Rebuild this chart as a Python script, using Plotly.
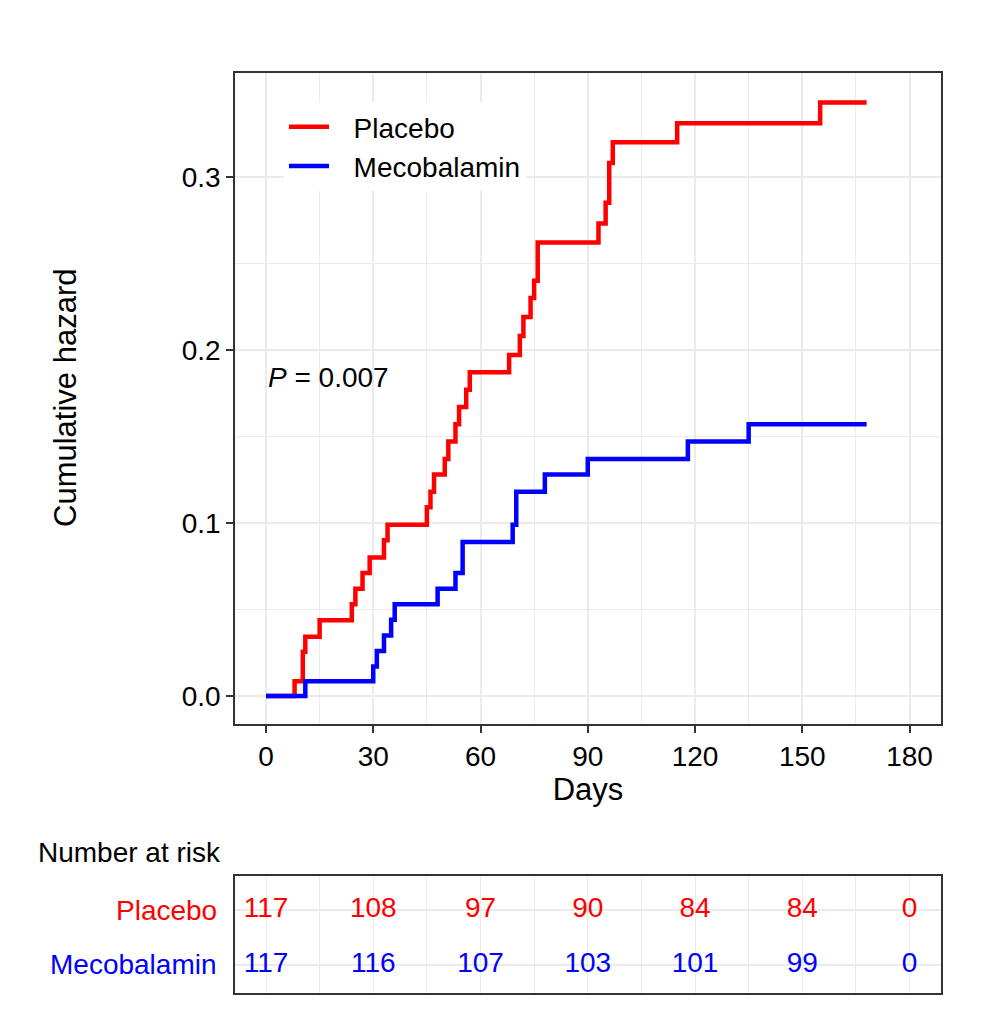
import plotly.graph_objects as go

# ---- data ----
placebo_days = [0, 8, 10.3, 11, 15, 24, 25, 27, 29, 33, 34, 45, 46, 47, 50, 51, 53, 54, 56, 57,
                68, 71, 72, 74, 75, 76, 93, 95, 96, 97, 115, 155, 168]
placebo_haz = [0, 0.0085, 0.0256, 0.0342, 0.0437, 0.053, 0.062, 0.071, 0.080, 0.090, 0.099,
               0.109, 0.118, 0.128, 0.137, 0.147, 0.157, 0.167, 0.177, 0.187,
               0.197, 0.208, 0.219, 0.230, 0.240, 0.262, 0.273, 0.285, 0.308, 0.320, 0.331, 0.343, 0.343]
meco_days = [0, 11, 30, 31, 33, 35, 36, 48, 53, 55, 69, 70, 78, 90, 118, 135, 168]
meco_haz = [0, 0.0085, 0.017, 0.026, 0.035, 0.044, 0.053, 0.062, 0.071, 0.089, 0.099, 0.118,
            0.128, 0.137, 0.147, 0.157, 0.157]

risk_times = [0, 30, 60, 90, 120, 150, 180]
risk_placebo = [117, 108, 97, 90, 84, 84, 0]
risk_meco = [117, 116, 107, 103, 101, 99, 0]

x_ticks = [0, 30, 60, 90, 120, 150, 180]
y_ticks = [0.0, 0.1, 0.2, 0.3]
y_ticklabels = ["0.0", "0.1", "0.2", "0.3"]

RED = "#FF0000"
BLUE = "#0000FF"
FONT = "Liberation Sans, Arial, sans-serif"
GRID = "#EBEBEB"
W, H = 1000, 1023
FS = 28

fig = go.Figure()
fig.add_trace(go.Scatter(x=placebo_days, y=placebo_haz, mode="lines", line_shape="hv",
                         line=dict(color=RED, width=4.5), name="\u2002\u2009Placebo"))
fig.add_trace(go.Scatter(x=meco_days, y=meco_haz, mode="lines", line_shape="hv",
                         line=dict(color=BLUE, width=4.5), name="\u2002\u2009Mecobalamin"))

# risk table
fig.add_trace(go.Scatter(x=risk_times, y=[2] * len(risk_times), mode="text",
                         text=[str(v) for v in risk_placebo], textfont=dict(color=RED, size=FS, family=FONT),
                         xaxis="x2", yaxis="y2", showlegend=False, hoverinfo="skip"))
fig.add_trace(go.Scatter(x=risk_times, y=[1] * len(risk_times), mode="text",
                         text=[str(v) for v in risk_meco], textfont=dict(color=BLUE, size=FS, family=FONT),
                         xaxis="x2", yaxis="y2", showlegend=False, hoverinfo="skip"))

xrange = [-8.67, 188.8]
px0, px1 = 235 / W, 941 / W
minor_x = [15, 45, 75, 105, 135, 165]

fig.update_layout(
    width=W, height=H,
    margin=dict(l=0, r=0, t=0, b=0),
    paper_bgcolor="white", plot_bgcolor="white",
    font=dict(family=FONT, size=FS, color="black"),
    xaxis=dict(domain=[px0, px1], range=xrange, tickvals=x_ticks,
               ticks="outside", ticklen=7, tickwidth=2, tickcolor="#333333",
               tickfont=dict(size=FS, color="black"),
               title=dict(text="Days", font=dict(size=31), standoff=6),
               minor=dict(showgrid=True, gridcolor=GRID, gridwidth=1, tickvals=minor_x),
               showline=True, mirror=True, linecolor="#333333", linewidth=1.5,
               gridcolor=GRID, gridwidth=2, zeroline=False, anchor="y"),
    yaxis=dict(domain=[1 - 724 / H, 1 - 73 / H], range=[-0.0162, 0.360],
               tickvals=y_ticks, ticktext=y_ticklabels,
               ticks="outside", ticklen=7, tickwidth=2, tickcolor="#333333",
               tickfont=dict(size=FS, color="black"),
               minor=dict(showgrid=True, gridcolor=GRID, gridwidth=1, tickvals=[0.05, 0.15, 0.25]),
               showline=True, mirror=True, linecolor="#333333", linewidth=1.5,
               gridcolor=GRID, gridwidth=2, zeroline=False, anchor="x"),
    xaxis2=dict(domain=[px0, px1], range=xrange, tickvals=x_ticks, showticklabels=False,
                ticks="", showline=True, mirror=True, linecolor="#333333", linewidth=1.5,
                gridcolor=GRID, gridwidth=1, zeroline=False, anchor="y2",
                minor=dict(showgrid=True, gridcolor=GRID, gridwidth=1, tickvals=minor_x)),
    yaxis2=dict(domain=[1 - 993 / H, 1 - 876 / H], range=[0.49, 2.62], tickvals=[1, 2],
                showticklabels=False, ticks="", showline=True, mirror=True, linecolor="#333333",
                linewidth=1.5, gridcolor=GRID, gridwidth=2, zeroline=False, anchor="x2"),
    legend=dict(x=0.284, y=1 - 102 / H, xanchor="left", yanchor="top",
                bgcolor="white", font=dict(size=FS, color="black"),
                itemwidth=40, tracegroupgap=0),
    showlegend=True,
)

annotations = [
    dict(text="Cumulative hazard", x=65 / W, y=1 - 398 / H, xref="paper", yref="paper",
         textangle=-90, xanchor="center", yanchor="middle", showarrow=False, font=dict(size=31)),
    dict(text="<i>P</i> = 0.007", x=266 / W, y=1 - 377 / H, xref="paper", yref="paper",
         xanchor="left", yanchor="middle", showarrow=False, font=dict(size=FS)),
    dict(text="Number at risk", x=36 / W, y=1 - 852 / H, xref="paper", yref="paper",
         xanchor="left", yanchor="middle", showarrow=False, font=dict(size=FS)),
    dict(text="Placebo", x=219 / W, y=2, xref="paper", yref="y2",
         xanchor="right", yanchor="middle", showarrow=False, font=dict(size=FS, color=RED)),
    dict(text="Mecobalamin", x=219 / W, y=1, xref="paper", yref="y2",
         xanchor="right", yanchor="middle", showarrow=False, font=dict(size=FS, color=BLUE)),
]
fig.update_layout(annotations=annotations)

fig.write_html("out.html", config={"displayModeBar": False},
               post_script="document.body.style.margin='0';")
